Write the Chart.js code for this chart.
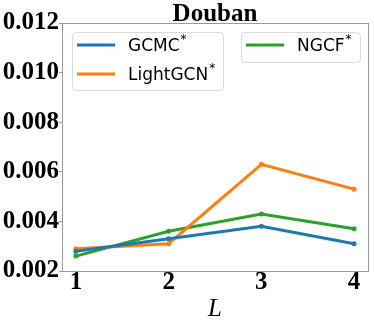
<!DOCTYPE html>
<html>
<head>
<meta charset="utf-8">
<script src="https://cdn.jsdelivr.net/npm/chart.js@4"></script>
<style>
html,body{margin:0;padding:0;background:#fff;}
#wrap{width:374px;height:324px;}
</style>
</head>
<body>
<div id="wrap"><canvas id="c" width="374" height="324"></canvas></div>
<script>
const layers = [1, 2, 3, 4];
const gcmc = [0.0028, 0.0033, 0.0038, 0.0031];
const lightgcn = [0.0029, 0.0031, 0.0063, 0.0053];
const ngcf = [0.0026, 0.0036, 0.0043, 0.0037];
const seriesNames = ['GCMC*', 'LightGCN*', 'NGCF*'];
const yTicks = [0.002, 0.004, 0.006, 0.008, 0.010, 0.012];
const titleText = 'Douban';
const xLabel = 'L';

const colors = ['#1f77b4', '#ff7f0e', '#2ca02c'];
const toPts = arr => arr.map((v, i) => ({x: layers[i], y: v}));

const legendPlugin = {
  id: 'twoBoxLegend',
  afterDatasetsDraw(chart) {
    const ctx = chart.ctx;
    const ds = chart.data.datasets;
    const boxes = [
      {x: 72, y: 32, w: 151, h: 58, items: [0, 1]},
      {x: 241, y: 32, w: 119, h: 30, items: [2]}
    ];
    ctx.save();
    boxes.forEach(b => {
      ctx.beginPath();
      ctx.roundRect(b.x + 0.5, b.y + 0.5, b.w, b.h, 4);
      ctx.fillStyle = 'rgba(255,255,255,0.8)';
      ctx.fill();
      ctx.strokeStyle = '#d9d9d9';
      ctx.lineWidth = 1;
      ctx.stroke();
      b.items.forEach((idx, k) => {
        const yy = b.y + 13 + k * 29;
        ctx.beginPath();
        ctx.moveTo(b.x + 5, yy);
        ctx.lineTo(b.x + 43, yy);
        ctx.strokeStyle = ds[idx].borderColor;
        ctx.lineWidth = 3;
        ctx.stroke();
        ctx.font = '17px "DejaVu Sans"';
        ctx.fillStyle = '#000';
        ctx.textBaseline = 'middle';
        const name = ds[idx].label.replace('*', '');
        const tx = b.x + 56;
        ctx.fillText(name, tx, yy + 2);
        const w = ctx.measureText(name).width;
        ctx.font = '12px "DejaVu Sans"';
        ctx.fillText('*', tx + w + 1, yy - 5);
      });
    });
    ctx.restore();
  }
};

const serifBold = {family: '"Liberation Serif"', size: 25, weight: 'bold', lineHeight: 1};

new Chart(document.getElementById('c'), {
  type: 'line',
  data: {
    datasets: [
      {label: seriesNames[0], data: toPts(gcmc), borderColor: colors[0], backgroundColor: colors[0]},
      {label: seriesNames[1], data: toPts(lightgcn), borderColor: colors[1], backgroundColor: colors[1]},
      {label: seriesNames[2], data: toPts(ngcf), borderColor: colors[2], backgroundColor: colors[2]}
    ].map(d => Object.assign(d, {borderWidth: 3, pointRadius: 1, pointHoverRadius: 1, tension: 0}))
  },
  options: {
    responsive: false,
    animation: false,
    layout: {padding: {left: 0, right: 6, top: 0, bottom: 0}},
    plugins: {legend: {display: false}, title: {display: false}, tooltip: {enabled: false}},
    scales: {
      x: {
        type: 'linear', min: 0.85, max: 4.15,
        afterBuildTicks: ax => { ax.ticks = layers.map(v => ({value: v})); },
        afterFit: ax => { ax.height = 53; },
        grid: {display: true, drawOnChartArea: false, drawTicks: true, tickLength: 4, color: '#999'},
        border: {display: true, color: '#999', width: 1},
        ticks: {color: '#000', font: serifBold, padding: -5, maxRotation: 0},
        title: {display: true, text: xLabel, color: '#000', font: {family: '"Liberation Serif"', size: 25, style: 'italic', lineHeight: 1}, padding: {top: 0, bottom: 2}}
      },
      x2: {
        type: 'linear', position: 'top', min: 0.85, max: 4.15,
        grid: {display: false},
        border: {display: true, color: '#999', width: 1},
        ticks: {display: false},
        afterFit: ax => { ax.height = 23; },
        title: {display: true, text: titleText, color: '#000', font: {family: '"Liberation Serif"', size: 25, weight: 'bold', lineHeight: 1}, padding: {top: 2, bottom: 0}}
      },
      y: {
        min: 0.002, max: 0.012,
        afterBuildTicks: ax => { ax.ticks = yTicks.map(v => ({value: v})); },
        afterFit: ax => { ax.width = 62; },
        grid: {display: true, drawOnChartArea: false, drawTicks: true, tickLength: 3, color: '#999'},
        border: {display: true, color: '#999', width: 1},
        ticks: {color: '#000', font: serifBold, padding: 0, callback: v => v.toFixed(3)}
      },
      y2: {
        position: 'right', min: 0.002, max: 0.012,
        grid: {display: false},
        border: {display: true, color: '#999', width: 1},
        ticks: {display: false},
        afterFit: ax => { ax.width = 0; }
      }
    }
  },
  plugins: [legendPlugin]
});
</script>
</body>
</html>
